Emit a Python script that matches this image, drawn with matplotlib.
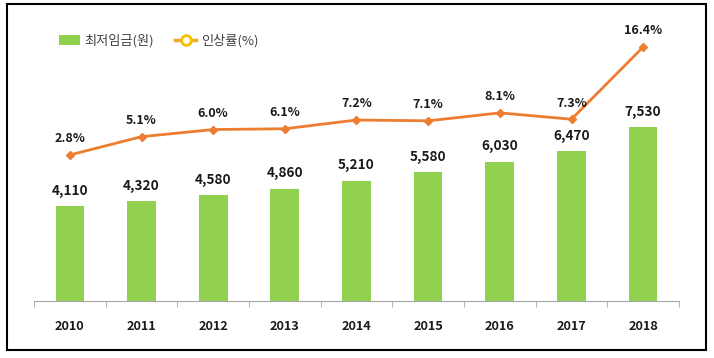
import matplotlib
matplotlib.use("Agg")
import matplotlib.pyplot as plt
from matplotlib.patches import Patch, Rectangle
from matplotlib.lines import Line2D

plt.rcParams['font.family'] = ['Noto Sans CJK KR', 'DejaVu Sans']

years = ['2010', '2011', '2012', '2013', '2014', '2015', '2016', '2017', '2018']
wage = [4110, 4320, 4580, 4860, 5210, 5580, 6030, 6470, 7530]
rate = [2.8, 5.1, 6.0, 6.1, 7.2, 7.1, 8.1, 7.3, 16.4]

bar_color = '#92D050'
line_color = '#ED7D31'

W, H = 714, 358
fig = plt.figure(figsize=(W / 100, H / 100), dpi=100)
ax = fig.add_axes([34 / W, (H - 301) / H, (679 - 34) / W, (301 - 20) / H])

x = list(range(len(years)))
ax.bar(x, wage, width=0.4, color=bar_color, zorder=2)
for xi, v in zip(x, wage):
    ax.annotate(f'{v:,}', (xi, v), xytext=(0, 6), textcoords='offset points',
                ha='center', va='bottom', fontsize=9.8, fontweight='bold', color='#1a1a1a')

ax.set_xlim(-0.5, len(years) - 0.5)
ax.set_ylim(0, 12160)
ax.set_yticks([])
for s in ['top', 'right', 'left']:
    ax.spines[s].set_visible(False)
ax.spines['bottom'].set_color('#A6A6A6')
ax.set_xticks(x)
ax.set_xticklabels(years, fontsize=9.2, fontweight='bold', color='#1a1a1a')
ax.tick_params(axis='x', length=0, pad=14)
# 카테고리 경계 눈금
ax.set_xticks([i - 0.5 for i in range(len(years) + 1)], minor=True)
ax.tick_params(axis='x', which='minor', length=4, color='#A6A6A6', direction='out')

ax2 = ax.twinx()
ax2.plot(x, rate, color=line_color, lw=2, marker='D', ms=4, zorder=3)
for xi, v in zip(x, rate):
    ax2.annotate(f'{v}%', (xi, v), xytext=(0, 7), textcoords='offset points',
                 ha='center', va='bottom', fontsize=9, fontweight='bold', color='#1a1a1a')
ax2.set_ylim(-15.6, 19.8)
ax2.set_yticks([])
for s in ax2.spines.values():
    s.set_visible(False)

handles = [
    Patch(facecolor=bar_color, edgecolor='none'),
    Line2D([0], [0], color='#F0A830', lw=2.5, marker='o', ms=7,
           markerfacecolor='white', markeredgecolor='#F5C000', markeredgewidth=2),
]
fig.legend(handles, ['최저임금(원)', '인상률(%)'], loc='center left',
           bbox_to_anchor=(47 / W, 1 - 41 / H), ncol=2, frameon=False,
           fontsize=9.5, labelcolor='#404040', handlelength=1.6,
           handletextpad=0.35, columnspacing=1.6)

fig.patches.append(Rectangle((7 / W, 1 - 350 / H), (706 - 7) / W, (350 - 4) / H,
                             transform=fig.transFigure, fill=False,
                             edgecolor='black', lw=1.5))

fig.savefig('out.png', dpi=100)
